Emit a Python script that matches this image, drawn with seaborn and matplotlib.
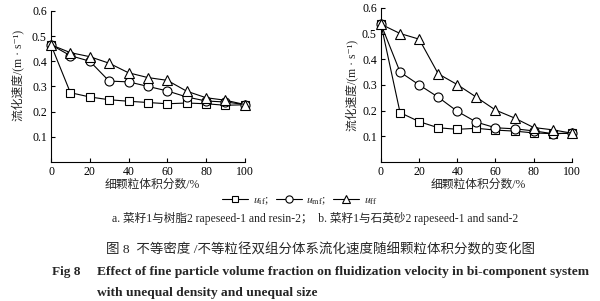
import matplotlib
matplotlib.use("Agg")
import matplotlib.pyplot as plt
import seaborn as sns
import numpy as np
import pandas as pd

# ---- data ----
x_frac = [0, 10, 20, 30, 40, 50, 60, 70, 80, 90, 100]

# panel a: rapeseed-1 and resin-2
a_uif = [0.465, 0.275, 0.258, 0.247, 0.241, 0.236, 0.231, 0.234, 0.231, 0.225, 0.227]
a_umf = [0.465, 0.422, 0.400, 0.321, 0.318, 0.300, 0.282, 0.258, 0.242, 0.238, 0.228]
a_uff = [0.465, 0.434, 0.418, 0.392, 0.354, 0.335, 0.324, 0.281, 0.255, 0.245, 0.228]

# panel b: rapeseed-1 and sand-2
b_uif = [0.536, 0.192, 0.157, 0.133, 0.127, 0.131, 0.124, 0.120, 0.113, 0.110, 0.112]
b_umf = [0.536, 0.350, 0.300, 0.252, 0.197, 0.155, 0.133, 0.129, 0.121, 0.110, 0.112]
b_uff = [0.536, 0.500, 0.478, 0.343, 0.301, 0.252, 0.202, 0.171, 0.134, 0.125, 0.112]

series_names = [r"$u_{\mathrm{if}}$", r"$u_{\mathrm{mf}}$", r"$u_{\mathrm{ff}}$"]
series_markers = ["s", "o", "^"]
x_ticks = [0, 20, 40, 60, 80, 100]
y_ticks = [0.1, 0.2, 0.3, 0.4, 0.5, 0.6]

sns.set_theme(style="ticks")
plt.rcParams["font.family"] = ["Liberation Serif", "Noto Sans CJK SC", "DejaVu Sans"]
plt.rcParams["mathtext.fontset"] = "stix"

fig = plt.figure(figsize=(6.0, 3.01), dpi=100)
fig.patch.set_facecolor("white")
ax1 = fig.add_axes([0.085, 0.462, 0.323, 0.502])
ax2 = fig.add_axes([0.635, 0.462, 0.318, 0.512])

msizes = {"s": 5.5, "o": 6.5, "^": 6.5}

def draw(ax, data):
    handles = []
    for vals, mk in zip(data, series_markers):
        df = pd.DataFrame({"x": x_frac, "y": vals})
        sns.lineplot(data=df, x="x", y="y", ax=ax, color="black", lw=0.8,
                     marker=mk, markersize=msizes[mk], markerfacecolor="white",
                     markeredgecolor="black", markeredgewidth=0.8, clip_on=False,
                     zorder=3)
        handles.append(ax.lines[-1])
    ax.set_xlim(0, 100)
    ax.set_ylim(0, 0.6)
    ax.set_xticks(x_ticks)
    ax.set_yticks(y_ticks)
    ax.set_yticklabels([f"{v:.1f}" for v in y_ticks])
    ax.set_xlabel("")
    ax.set_ylabel("")
    ax.set_facecolor("white")
    for s in ["top", "right"]:
        ax.spines[s].set_visible(False)
    for s in ["left", "bottom"]:
        ax.spines[s].set_linewidth(0.8)
        ax.spines[s].set_color("black")
    ax.tick_params(direction="in", length=3, width=0.8, labelsize=8.5,
                   colors="black", pad=3)
    return handles

handles = draw(ax1, [a_uif, a_umf, a_uff])
draw(ax2, [b_uif, b_umf, b_uff])

ylab = "流化速度/(m · s⁻¹)"
fig.text(18 / 600, 1 - 75 / 301, ylab, rotation=90, ha="center", va="center", fontsize=8.5)
fig.text(352 / 600, 1 - 85 / 301, ylab, rotation=90, ha="center", va="center", fontsize=8.5)

xlab = "细颗粒体积分数/%"
fig.text(152 / 600, 1 - 185 / 301, xlab, ha="center", va="center", fontsize=8.5)
fig.text(478 / 600, 1 - 185 / 301, xlab, ha="center", va="center", fontsize=8.5)

fig.legend(handles, [n + ";" for n in series_names[:2]] + [series_names[2]],
           loc="center", bbox_to_anchor=(300 / 600, 1 - 201 / 301), ncol=3,
           frameon=False, fontsize=8.5, handlelength=2.2, columnspacing=0.6,
           handletextpad=0.4, borderaxespad=0, markerscale=0.8)

fig.text(315 / 600, 1 - 218 / 301,
         "a. 菜籽1与树脂2 rapeseed-1 and resin-2；  b. 菜籽1与石英砂2 rapeseed-1 and sand-2",
         ha="center", va="center", fontsize=8.4)
fig.text(320 / 600, 1 - 250 / 301,
         "图 8  不等密度 /不等粒径双组分体系流化速度随细颗粒体积分数的变化图",
         ha="center", va="center", fontsize=9.7)
fig.text(52 / 600, 1 - 272 / 301, "Fig 8", ha="left", va="center",
         fontsize=9.5, fontweight="bold")
fig.text(97 / 600, 1 - 272 / 301,
         "Effect of fine particle volume fraction on fluidization velocity in bi-component system",
         ha="left", va="center", fontsize=9.7, fontweight="bold")
fig.text(97 / 600, 1 - 293 / 301, "with unequal density and unequal size",
         ha="left", va="center", fontsize=9.7, fontweight="bold")

fig.savefig("out.png", dpi=100, facecolor="white")
